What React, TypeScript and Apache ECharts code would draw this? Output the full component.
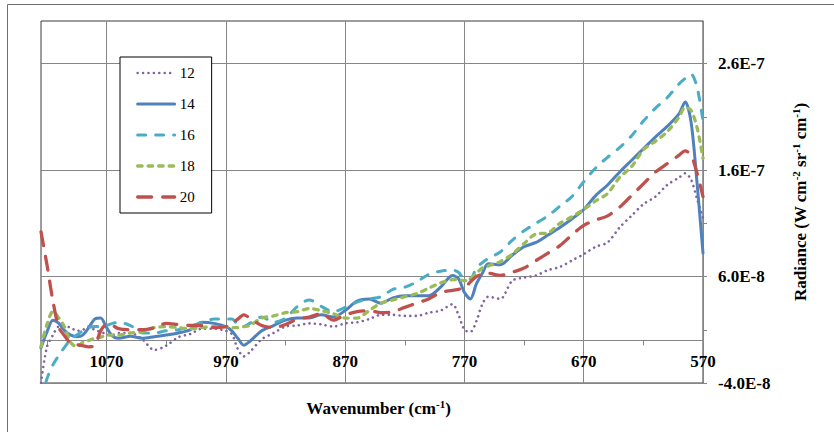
import React, { useEffect, useRef } from "react";
import * as echarts from "echarts";

// Wavenumber (cm-1), shared by all series
const WAVENUMBER = [
  1125, 1120, 1115, 1110, 1105, 1100, 1095, 1090, 1085, 1080,
  1075, 1070, 1065, 1060, 1050, 1040, 1030, 1020, 1010, 1000,
  990, 980, 970, 965, 960, 955, 950, 940, 930, 920,
  910, 900, 890, 880, 870, 860, 850, 840, 830, 820,
  810, 800, 790, 780, 775, 770, 765, 760, 755, 750,
  740, 730, 720, 710, 700, 690, 680, 670, 660, 650,
  640, 630, 620, 610, 600, 590, 585, 580, 575, 570,
];

// Radiance values in units of 1E-8 W cm-2 sr-1 cm-1
const R12 = [
  -4.0, -0.6, 0.5, 1.3, 1.3, 1.2, 0.9, 1.0, 1.3, 1.0,
  0.8, 0.6, 0.5, 0.7, 0.7, 0.1, -0.9, -0.5, 0.3, 0.6,
  1.1, 1.1, 0.9, 0.6, -0.8, -1.5, -1.1, 0.1, 0.7, 1.3,
  1.4, 1.6, 1.5, 1.3, 1.6, 1.7, 2.0, 2.4, 2.4, 2.3,
  2.3, 2.6, 2.8, 3.4, 2.4, 1.0, 0.8, 1.8, 3.4, 4.1,
  3.9, 5.6, 5.9, 6.1, 6.6, 6.9, 7.5, 8.1, 8.8, 9.2,
  10.6, 11.7, 12.8, 13.5, 14.6, 15.3, 15.7, 15.1, 13.3, 11.5,
];
const R14 = [
  -0.7, 0.8, 1.9, 1.6, 0.9, 0.5, 0.35, 0.5, 1.2, 2.0,
  2.1, 1.2, 0.4, 0.2, 0.4, 0.2, 0.35, 0.5, 0.7, 1.0,
  1.7, 1.6, 1.3, 0.9, 0.2, -0.45, -0.1, 0.9, 1.4, 1.9,
  2.1, 2.1, 2.4, 2.2, 2.8, 3.7, 3.9, 3.5, 4.0, 4.2,
  4.2, 4.2, 5.0, 6.1, 5.8, 4.5, 3.9, 5.3, 6.3, 7.2,
  7.1, 8.0, 8.8, 9.2, 9.9, 10.6, 11.4, 12.3, 13.6, 14.6,
  15.8, 16.9, 18.0, 19.1, 20.1, 21.3, 22.4, 20.5, 14.8, 8.2,
];
const R16 = [
  -5.5, -3.6, -2.3, -1.4, -0.6, 0.1, 0.5, 0.9, 1.2, 1.3,
  1.3, 1.4, 1.6, 1.7, 1.4, 0.7, 0.7, 0.9, 1.0, 1.3,
  1.7, 2.0, 2.0, 2.0, 1.5, 1.3, 1.6, 2.2, 1.7, 2.1,
  3.2, 3.8, 3.2, 2.7, 3.1, 3.6, 3.9, 4.1, 4.8, 5.0,
  5.5, 6.2, 6.5, 6.6, 6.4, 5.8, 5.8, 6.8, 7.3, 7.7,
  8.3, 9.4, 10.3, 11.0, 11.7, 12.6, 13.5, 14.9, 16.2, 17.2,
  18.1, 19.2, 20.6, 21.8, 22.8, 24.1, 24.6, 25.0, 23.8, 20.6,
];
const R18 = [
  -0.6, 1.5, 2.7, 2.1, 1.2, -0.2, -0.6, -0.2, 0.0, 0.2,
  0.3, 0.5, 0.5, 0.5, 0.7, 0.8, 1.2, 1.3, 1.2, 1.1,
  1.2, 1.3, 1.3, 1.2, 1.2, 1.3, 1.4, 2.1, 2.3, 2.6,
  2.7, 3.0, 2.8, 2.5, 2.1, 2.1, 2.8, 3.5, 3.8, 4.1,
  4.4, 4.9, 5.4, 5.7, 5.7, 5.6, 5.8, 6.3, 6.8, 7.0,
  7.4, 8.1, 9.1, 10.0, 10.1, 11.0, 11.6, 12.3, 13.1, 13.8,
  15.3, 16.3, 17.9, 18.7, 19.6, 21.0, 21.9, 21.6, 20.0, 17.1,
];
const R20 = [
  10.2, 7.1, 3.7, 1.2, 0.4, -0.3, -0.4, -0.5, -0.6, -0.5,
  0.9, 1.5, 1.4, 1.1, 1.0, 1.0, 1.2, 1.6, 1.5, 1.4,
  1.4, 1.2, 1.3, 1.6, 2.0, 2.4, 2.1, 1.4, 1.2, 1.5,
  2.0, 2.2, 2.5, 1.9, 2.4, 2.7, 2.8, 2.6, 2.7, 3.1,
  3.5, 3.9, 4.5, 4.7, 4.8, 4.9, 5.5, 6.0, 6.2, 6.3,
  6.1, 6.4, 6.8, 7.5, 8.2, 8.9, 9.9, 10.8, 11.3, 11.7,
  12.5, 13.6, 14.7, 15.8, 16.6, 17.4, 17.8, 17.4, 15.7, 13.5,
];
const UNIT = 1e-8;

const SERIES_NAMES = ["12", "14", "16", "18", "20"];
const SERIES_VALUES = [R12, R14, R16, R18, R20];

const X_MIN = 570;
const X_MAX = 1125;
const Y_MIN = -4e-8;
const Y_MAX = 3e-7;
const X_LABEL_VALUES = [1070, 970, 870, 770, 670, 570];
const X_TICK_VALUES = [1120, 1070, 1020, 970, 920, 870, 820, 770, 720, 670, 620, 570];
const Y_LABEL_VALUES = [-4e-8, 6e-8, 1.6e-7, 2.6e-7];
const Y_TICK_VALUES = [-4e-8, 1e-8, 6e-8, 1.1e-7, 1.6e-7, 2.1e-7, 2.6e-7];

const FONT = "Liberation Serif";
const GRID_COLOR = "#868686";

const GRID_TOP = 21;
const GRID_BOTTOM = 49;
const CHART_H = 432;

const LINE_STYLES = [
  { color: "#8064A2", width: 2.6, type: [0.01, 5.4], cap: "round" },
  { color: "#4F81BD", width: 3, type: "solid", cap: "round" },
  { color: "#4BACC6", width: 3, type: [8, 10], cap: "round" },
  { color: "#9BBB59", width: 3.3, type: [4.5, 6], cap: "round" },
  { color: "#C0504D", width: 3.3, type: [14, 11], cap: "round" },
];

const richName = {
  b: { fontFamily: FONT, fontWeight: "bold", fontSize: 17, color: "#000", lineHeight: 20 },
  s: { fontFamily: FONT, fontWeight: "bold", fontSize: 11, color: "#000", verticalAlign: "top" },
};

export default function App() {
  const ref = useRef<HTMLDivElement>(null);

  useEffect(() => {
    document.body.style.margin = "0";
    if (!ref.current) return;
    const chart = echarts.init(ref.current, null, { renderer: "svg" });

    // The x axis line sits at radiance 0: shift it up from the grid bottom
    // by the height that the range [Y_MIN, 0] takes in the plot.
    const plotH = CHART_H - GRID_TOP - GRID_BOTTOM;
    const zeroShift = (plotH * (0 - Y_MIN)) / (Y_MAX - Y_MIN);

    const series = SERIES_NAMES.map((name, i) => ({
      type: "line",
      name,
      xAxisIndex: 0,
      yAxisIndex: 0,
      data: WAVENUMBER.map((w, j) => [w, SERIES_VALUES[i][j] * UNIT]),
      symbol: "none",
      showSymbol: false,
      smooth: 0.3,
      color: LINE_STYLES[i].color,
      lineStyle: {
        color: LINE_STYLES[i].color,
        width: LINE_STYLES[i].width,
        type: LINE_STYLES[i].type,
        cap: LINE_STYLES[i].cap,
        join: "round",
      },
      emphasis: { disabled: true },
      z: 3 + i,
    }));

    chart.setOption({
      animation: false,
      backgroundColor: "#fff",
      textStyle: { fontFamily: FONT },
      graphic: [
        {
          type: "rect",
          shape: { x: 7.5, y: 4.5, width: 840, height: 440 },
          style: { fill: "none", stroke: "#6e6e6e", lineWidth: 1 },
          silent: true,
          z: 0,
        },
      ],
      grid: {
        left: 41,
        right: 131,
        top: GRID_TOP,
        bottom: GRID_BOTTOM,
        containLabel: false,
        outerBoundsMode: "none",
        show: true,
        borderColor: "#3a3a3a",
        borderWidth: 1,
        backgroundColor: "transparent",
      },
      legend: {
        orient: "vertical",
        left: 120,
        top: 57,
        padding: [8, 17, 8, 16],
        itemWidth: 37,
        itemHeight: 16,
        itemGap: 15,
        backgroundColor: "#fff",
        borderColor: "#000",
        borderWidth: 1,
        borderRadius: 0,
        selectedMode: false,
        data: SERIES_NAMES,
        itemStyle: { color: "rgba(0,0,0,0)", borderColor: "rgba(0,0,0,0)", borderWidth: 0 },
        lineStyle: { width: "inherit", type: "inherit", cap: "inherit" },
        textStyle: { fontFamily: FONT, fontSize: 15, color: "#000", lineHeight: 16 },
      },
      xAxis: [
        {
          type: "value",
          min: X_MIN,
          max: X_MAX,
          inverse: true,
          position: "bottom",
          offset: -zeroShift,
          axisLine: { show: true, onZero: false, lineStyle: { color: GRID_COLOR, width: 1 } },
          axisTick: {
            show: true,
            inside: false,
            length: 5,
            customValues: X_TICK_VALUES,
            lineStyle: { color: GRID_COLOR, width: 1 },
          },
          axisLabel: {
            customValues: X_LABEL_VALUES,
            margin: 13,
            fontFamily: FONT,
            fontWeight: "bold",
            fontSize: 17,
            color: "#000",
            formatter: (v: number) => String(v),
          },
          splitLine: { show: false },
          name: "{b|Wavenumber (cm}{s|-1}{b|)}",
          nameLocation: "middle",
          nameGap: 58,
          nameTextStyle: { fontFamily: FONT, padding: [0, 0, 0, 13], rich: richName },
        },
        {
          type: "value",
          min: X_MIN,
          max: X_MAX,
          inverse: true,
          position: "top",
          axisLine: { show: false, onZero: false },
          axisTick: { show: false, customValues: X_LABEL_VALUES },
          axisLabel: { show: false, customValues: X_LABEL_VALUES },
          splitLine: { show: true, lineStyle: { color: GRID_COLOR, width: 1 } },
        },
      ],
      yAxis: [
        {
          type: "value",
          min: Y_MIN,
          max: Y_MAX,
          position: "right",
          axisLine: { show: true, onZero: false, lineStyle: { color: GRID_COLOR, width: 1 } },
          axisTick: {
            show: true,
            length: 4,
            customValues: Y_TICK_VALUES,
            lineStyle: { color: GRID_COLOR, width: 1 },
          },
          axisLabel: {
            customValues: Y_LABEL_VALUES,
            margin: 15,
            fontFamily: FONT,
            fontWeight: "bold",
            fontSize: 17,
            color: "#000",
            formatter: (v: number) => v.toExponential(1).toUpperCase(),
          },
          splitLine: { show: false },
          name: "{b|Radiance (W cm}{s|-2}{b| sr}{s|-1}{b| cm}{s|-1}{b|)}",
          nameLocation: "middle",
          nameRotate: 90,
          nameGap: 87,
          nameTextStyle: { fontFamily: FONT, rich: richName },
        },
        {
          type: "value",
          min: Y_MIN,
          max: Y_MAX,
          position: "left",
          axisLine: { show: false, onZero: false },
          axisTick: { show: false, customValues: Y_LABEL_VALUES },
          axisLabel: { show: false, customValues: Y_LABEL_VALUES },
          splitLine: { show: true, lineStyle: { color: GRID_COLOR, width: 1 } },
        },
      ],
      series,
    });

    return () => chart.dispose();
  }, []);

  return <div ref={ref} style={{ width: 834, height: 432 }} />;
}
